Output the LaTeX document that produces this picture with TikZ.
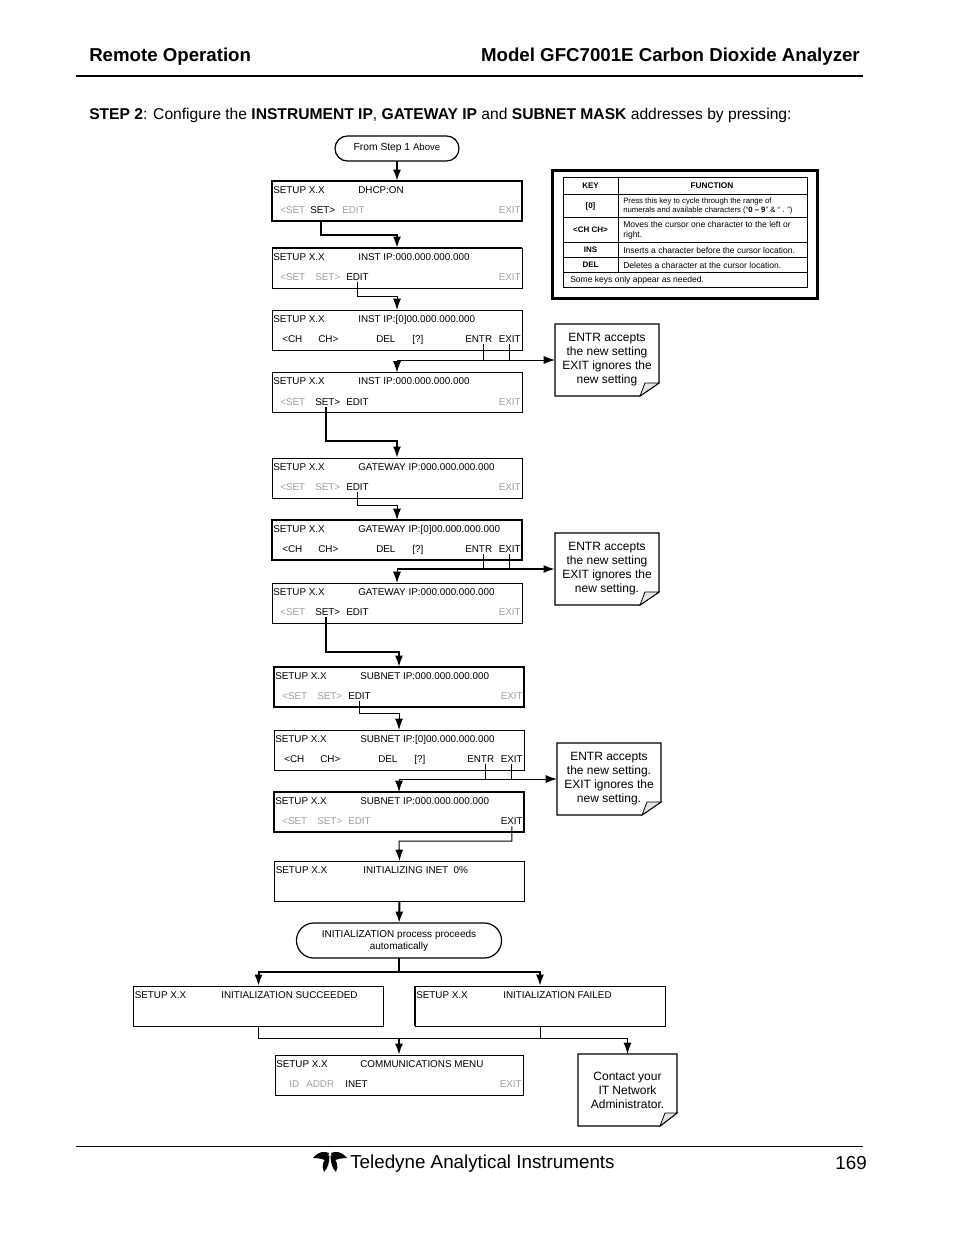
\documentclass[tikz,border=0pt]{standalone}
\usepackage{fontspec}
\setmainfont{Liberation Sans}
\usetikzlibrary{arrows.meta}

\tikzset{
  lcdbox/.style={draw,anchor=north west,minimum width=187.5pt,minimum height=30pt,inner sep=0pt,outer sep=0pt,line width=.75pt},
  lcdheavy/.style={line width=1.5pt},
  lcdtext/.style={anchor=west,inner xsep=0pt,inner ysep=1pt,font=\fontsize{7.4}{8}\selectfont,text height=5.3pt,text depth=0pt},
  keyon/.style={lcdtext,black},
  keyoff/.style={lcdtext,gray!75},
  pill/.style={draw,line width=.9pt,align=center,inner sep=0pt,outer sep=0pt},
  notebox/.style={minimum width=78pt,minimum height=54pt,inner sep=0pt,outer sep=0pt,align=center,font=\fontsize{9}{10.5}\selectfont},
  flowthin/.style={line width=.75pt,-{Latex[length=8.5pt,width=6pt]}},
  flowthick/.style={line width=1.5pt,-{Latex[length=8.5pt,width=6pt]}},
  stubthin/.style={line width=.75pt},
  stubthick/.style={line width=1.5pt},
  keycell/.style={font=\bfseries\fontsize{6}{7}\selectfont,inner sep=0pt},
  funccell/.style={anchor=west,align=left,inner sep=0pt,font=\fontsize{6.4}{7.6}\selectfont},
  pagehead/.style={inner sep=0pt,font=\bfseries\fontsize{14}{16}\selectfont},
}

% box with its title line: style, name, x, y, x of message, message
\newcommand{\lcd}[6][]{%
  \node[lcdbox,#1] (#2) at (#3,#4) {};
  \node[keyon] (#2id) at (#3+1,#4+8.8) {SETUP X.X};
  \node[keyon] (#2msg) at (#5,#4+8.8) {#6};
}
% <SET SET> EDIT EXIT row
\newcommand{\setrow}[5]{%
  \node[#2] (#1a) at ([shift={(8,29.3)}]#1.north west) {<SET};
  \node[#3] (#1b) at ([shift={(43,29.3)}]#1.north west) {SET>};
  \node[#4] (#1c) at ([shift={(74,29.3)}]#1.north west) {EDIT};
  \node[#5,anchor=east] (#1d) at ([shift={(249,29.3)}]#1.north west) {EXIT};
}
% <CH CH> DEL [?] ENTR EXIT row
\newcommand{\chrow}[1]{%
  \node[keyon] (#1a) at ([shift={(10,29.3)}]#1.north west) {<CH};
  \node[keyon] (#1b) at ([shift={(46,29.3)}]#1.north west) {CH>};
  \node[keyon] (#1c) at ([shift={(104,29.3)}]#1.north west) {DEL};
  \node[keyon] (#1d) at ([shift={(140,29.3)}]#1.north west) {[?]};
  \node[keyon] (#1e) at ([shift={(193,29.3)}]#1.north west) {ENTR};
  \node[keyon,anchor=east] (#1f) at ([shift={(249,29.3)}]#1.north west) {EXIT};
}
% note sheet with folded corner
\newcommand{\foldnote}[3]{%
  \node[notebox] (#1) at (#2) {#3};
  \draw[line width=.9pt] (#1.north west) -- (#1.north east) -- ([shift={(0,-13)}]#1.south east)
    -- ([shift={(-19,0)}]#1.south east) -- (#1.south west) -- cycle;
  \draw[line width=.6pt,fill=gray!20] ([shift={(-19,0)}]#1.south east) -- ([shift={(-14,-13)}]#1.south east)
    -- ([shift={(0,-13)}]#1.south east) -- cycle;
}

\begin{document}
\begin{tikzpicture}[x=.75pt,y=-.75pt]
  \fill[white] (0,0) rectangle (954,1235);
  \useasboundingbox (0,0) rectangle (954,1235);

  %page header
  \node[pagehead,anchor=west] (headL) at (89,57) {Remote Operation};
  \node[pagehead,anchor=east] (headR) at (860,57) {Model GFC7001E Carbon Dioxide Analyzer};
  \draw[line width=.9pt] (76,76) -- (863,76);
  \node[anchor=west,inner sep=0pt,font=\fontsize{11.72}{14}\selectfont] (stepline) at (89,115.5)
    {\textbf{STEP 2}: Configure the \textbf{INSTRUMENT IP}, \textbf{GATEWAY IP} and \textbf{SUBNET MASK} addresses by pressing:};

  %start
  \node[pill,rounded corners=9.3pt,minimum width=93pt,minimum height=18.75pt] (start) at (397,148.5) {};
  \node[inner sep=0pt,font=\fontsize{7.7}{9}\selectfont] (starttxt) at (397,148) {From Step 1 {\fontsize{7.2}{9}\selectfont Above}};

  %instrument ip
  \lcd[lcdheavy]{dhcp}{272}{181}{358}{DHCP:ON}
  \node[keyoff] (dhcpa) at (280,210.3) {<SET};
  \node[keyon] (dhcpb) at (310,210.3) {SET>};
  \node[keyoff] (dhcpc) at (342,210.3) {EDIT};
  \node[keyoff,anchor=east] (dhcpd) at (521,210.3) {EXIT};
  \lcd{instA}{272}{248}{358}{INST IP:000.000.000.000}
  \draw[line width=1.5pt] (instA.north west) -- (instA.north east);
  \setrow{instA}{keyoff}{keyoff}{keyon}{keyoff}
  \lcd{instB}{272}{310}{358}{INST IP:[0]00.000.000.000}
  \chrow{instB}
  \lcd{instC}{272}{372.5}{358}{INST IP:000.000.000.000}
  \setrow{instC}{keyoff}{keyon}{keyon}{keyoff}

  %gateway ip
  \lcd{gateA}{272}{458}{358}{GATEWAY IP:000.000.000.000}
  \setrow{gateA}{keyoff}{keyoff}{keyon}{keyoff}
  \lcd[lcdheavy]{gateB}{272}{520}{358}{GATEWAY IP:[0]00.000.000.000}
  \chrow{gateB}
  \lcd{gateC}{272}{583}{358}{GATEWAY IP:000.000.000.000}
  \setrow{gateC}{keyoff}{keyon}{keyon}{keyoff}

  %subnet
  \lcd[lcdheavy]{subA}{274}{667}{360}{SUBNET IP:000.000.000.000}
  \setrow{subA}{keyoff}{keyoff}{keyon}{keyoff}
  \lcd{subB}{274}{730}{360}{SUBNET IP:[0]00.000.000.000}
  \chrow{subB}
  \lcd[lcdheavy]{subC}{274}{792}{360}{SUBNET IP:000.000.000.000}
  \setrow{subC}{keyoff}{keyoff}{keyoff}{keyon}

  %initializing
  \lcd{init}{274.5}{861}{363}{INITIALIZING INET\ \ 0\%}
  \node[pill,rounded corners=13pt,minimum width=153.75pt,minimum height=26.25pt,font=\fontsize{7.5}{9}\selectfont] (proc) at (399,940.5)
    {INITIALIZATION process proceeds\\automatically};
  \lcd{okbox}{133.5}{986}{221}{INITIALIZATION SUCCEEDED}
  \lcd{failbox}{415}{986}{503}{INITIALIZATION FAILED}
  \draw[line width=1.5pt] (failbox.north west) -- (failbox.south west);
  \lcd[minimum width=186pt]{comm}{275}{1055}{360}{COMMUNICATIONS MENU}
  \node[keyoff] (comma) at (289,1084.3) {ID};
  \node[keyoff] (commb) at (306,1084.3) {ADDR};
  \node[keyon] (commc) at (345,1084.3) {INET};
  \node[keyoff,anchor=east] (commd) at (522,1084.3) {EXIT};

  %notes
  \foldnote{noteA}{607,360}{ENTR accepts\\the new setting\\EXIT ignores the\\new setting}
  \foldnote{noteB}{607,569}{ENTR accepts\\the new setting\\EXIT ignores the\\new setting.}
  \foldnote{noteC}{609,779}{ENTR accepts\\the new setting.\\EXIT ignores the\\new setting.}
  \node[notebox,minimum width=74.25pt] (noteD) at (627.5,1090) {Contact your\\IT Network\\Administrator.};
  \draw[line width=.9pt] (noteD.north west) -- (noteD.north east) -- ([shift={(0,-13)}]noteD.south east)
    -- ([shift={(-17,0)}]noteD.south east) -- (noteD.south west) -- cycle;
  \draw[line width=.6pt,fill=gray!20] ([shift={(-17,0)}]noteD.south east) -- ([shift={(-12,-13)}]noteD.south east)
    -- ([shift={(0,-13)}]noteD.south east) -- cycle;

  %connectors
  \coordinate (jA) at (397,235);
  \coordinate (jB) at (397,296);
  \coordinate (jC) at (397,360);
  \coordinate (jD) at (397,441);
  \coordinate (jE) at (397,505);
  \coordinate (jF) at (397,569);
  \coordinate (jG) at (399,652);
  \coordinate (jH) at (399,713);
  \coordinate (jI) at (399,779);
  \coordinate (jJ) at (399,841);
  \coordinate (jK) at (399,972);
  \coordinate (jL) at (399,1038);

  \draw[flowthick] (start) -- (dhcp);
  \draw[flowthick] ([xshift=-1.5pt]dhcpb.south |- dhcp.south) |- (jA) -- (instA.north);
  \draw[flowthin] (instAc.south) |- (jB) -- (instB.north);
  \draw[stubthin] ([xshift=3.75pt]instBe.south) -- ([xshift=3.75pt]instBe.south |- jC);
  \draw[stubthin] (instBf.south) -- (instBf.south |- jC);
  \draw[flowthin] (jC) -- (jC -| noteA.west);
  \draw[flowthin] (jC) -- (instC.north);
  \draw[flowthick] ([xshift=-1.5pt]instCb.south) |- (jD) -- (gateA.north);
  \draw[flowthin] (gateAc.south) |- (jE) -- (gateB.north);
  \draw[stubthin] ([xshift=3.75pt]gateBe.south) -- ([xshift=3.75pt]gateBe.south |- jF);
  \draw[stubthin] (gateBf.south) -- (gateBf.south |- jF);
  \draw[flowthick] (jF) -- (jF -| noteB.west);
  \draw[flowthin] (jF) -- (gateC.north);
  \draw[flowthick] ([xshift=-1.5pt]gateCb.south) |- (jG) -- (subA.north);
  \draw[flowthin] (subAc.south) |- (jH) -- (subB.north);
  \draw[stubthin] ([xshift=3.75pt]subBe.south) -- ([xshift=3.75pt]subBe.south |- jI);
  \draw[stubthin] (subBf.south) -- (subBf.south |- jI);
  \draw[flowthin] (jI) -- (jI -| noteC.west);
  \draw[flowthin] (jI) -- (subC.north);
  \draw[flowthin] (subCd.south) |- (jJ) -- (init.north);
  \draw[flowthick] (init) -- (proc);
  \draw[stubthick] (proc) -- (jK);
  \draw[flowthick] (jK) -| (okbox.north);
  \draw[flowthick] (jK) -| (failbox.north);
  \draw[stubthin] (okbox.south) |- (failbox.south |- jL);
  \draw[stubthin] (failbox.south) -- (failbox.south |- jL);
  \draw[flowthin] (failbox.south |- jL) -| (noteD.north);
  \draw[flowthick] (jL) -- (comm.north);

  %key table
  \draw[line width=2pt] (552.5,170.5) rectangle (817.5,298.5);
  \draw[line width=.75pt] (563,177) rectangle (807,287);
  \foreach \y in {194,217,242,257,272} {
    \draw[line width=.75pt] (563,\y) -- (807,\y);
  }
  \draw[line width=.75pt] (618,177) -- (618,272);
  \node[keycell] (keyhead) at (590.5,186) {KEY};
  \node[keycell,font=\bfseries\fontsize{6.2}{7}\selectfont] (funchead) at (712,186) {FUNCTION};
  \node[keycell] (keyzero) at (590.5,206.5) {[0]};
  \node[keycell] (keych) at (590.5,229.5) {<CH CH>};
  \node[keycell] (keyins) at (590.5,249.5) {INS};
  \node[keycell] (keydel) at (590.5,264.5) {DEL};
  \node[funccell,font=\fontsize{5.8}{6.7}\selectfont] (funczero) at (623,206) {Press this key to cycle through the range of\\numerals and available characters  (“\textbf{0 – 9}” \& “ . ”)};
  \node[funccell] (funcch) at (623,230) {Moves the cursor one character to the left or\\right.};
  \node[funccell] (funcins) at (623,250) {Inserts a character before the cursor location.};
  \node[funccell] (funcdel) at (623,265) {Deletes a character at the cursor location.};
  \node[funccell] (keynote) at (570,280) {Some keys only appear as needed.};

  %footer
  \draw[line width=.75pt] (76,1146) -- (863,1146);
  \foreach \s in {1,-1} {
    \begin{scope}[shift={(330,0)},xscale=\s]
      \fill (-1,1153) .. controls (-6,1151) and (-11,1151) .. (-17,1158) .. controls (-12,1158) and (-6,1159) .. (-4,1161) -- cycle;
      \fill (-1,1155) .. controls (-7,1160) and (-9,1166) .. (-6,1172) .. controls (-2,1168) and (-1,1163) .. (-.5,1157) -- cycle;
    \end{scope}
  }
  \node[anchor=west,inner sep=0pt,font=\fontsize{14.1}{16}\selectfont] (footL) at (350,1163.5) {Teledyne Analytical Instruments};
  \node[anchor=east,inner sep=0pt,font=\fontsize{14.1}{16}\selectfont] (footR) at (867,1163.5) {169};
\end{tikzpicture}
\end{document}
